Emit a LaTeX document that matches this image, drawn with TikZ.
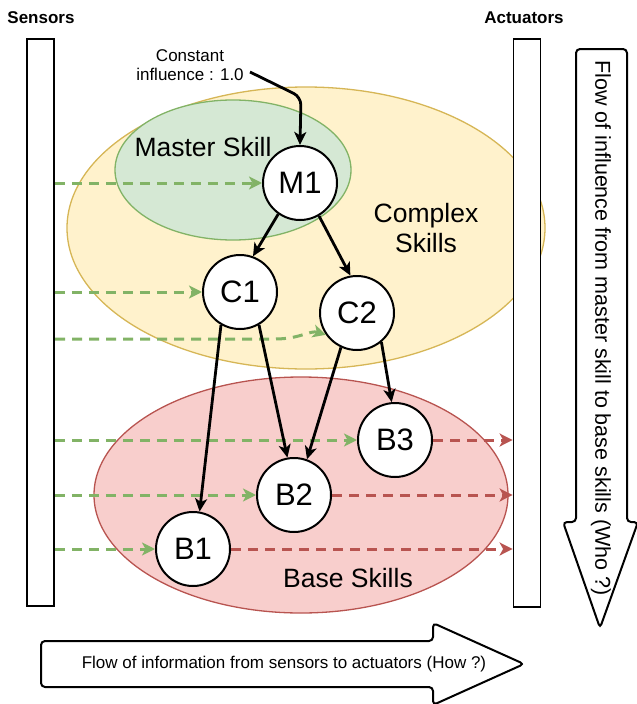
\documentclass[tikz,border=0pt]{standalone}
\usepackage{fontspec}
\setmainfont{Liberation Sans}
\usetikzlibrary{arrows.meta}
\definecolor{grnfill}{HTML}{D5E8D4}
\definecolor{grnline}{HTML}{82B366}
\definecolor{yelfill}{HTML}{FFF2CC}
\definecolor{yelline}{HTML}{D6B656}
\definecolor{redfill}{HTML}{F8CECC}
\definecolor{redline}{HTML}{B85450}
\tikzset{
  skill/.style={circle, draw, fill=white, line width=2pt, minimum size=74pt, inner sep=0pt, font=\fontsize{31}{33}\selectfont},
  bar/.style={draw, line width=1.8pt, fill=white, minimum width=27pt, inner sep=0pt},
  infl/.style={line width=2.8pt, -{Stealth[length=13pt, width=12pt, inset=3.5pt]}},
  sensing/.style={draw=grnline, line width=3pt, dash pattern=on 10pt off 7pt, -{Stealth[length=13pt, width=13pt, inset=3.5pt]}},
  acting/.style={draw=redline, line width=3pt, dash pattern=on 10pt off 7pt, -{Stealth[length=13pt, width=13pt, inset=3.5pt]}},
  grouplabel/.style={font=\fontsize{26.5}{30}\selectfont, align=center},
  flowbox/.style={draw, line width=2pt, fill=white, rounded corners=4pt}
}
\begin{document}
\begin{tikzpicture}[x=1pt, y=-1pt]
\useasboundingbox (0,0) rectangle (637,704);

% skill groups
\draw[yelline, fill=yelfill, line width=1.3pt] (306,228) ellipse [x radius=239, y radius=141];
\draw[grnline, fill=grnfill, line width=1.3pt] (233,170) ellipse [x radius=118, y radius=70];
\draw[redline, fill=redfill, line width=1.3pt] (301,495) ellipse [x radius=207, y radius=118];
\node[grouplabel] (mlab) at (203,147) {Master Skill};
\node[grouplabel] (clab) at (426,228) {Complex\\Skills};
\node[grouplabel] (blab) at (348,578) {Base Skills};

% sensor and actuator bars
\node[font=\bfseries\fontsize{17}{19}\selectfont] (senslab) at (41,18) {Sensors};
\node[font=\bfseries\fontsize{17}{19}\selectfont] (actlab) at (524,18) {Actuators};
\node[bar, minimum height=567pt] (sens) at (40.5,322.5) {};
\node[bar, minimum height=568pt] (act) at (527,323) {};

% skill nodes
\node[skill] (M1) at (300,183) {M1};
\node[skill] (C1) at (240,292) {C1};
\node[skill] (C2) at (357,313) {C2};
\node[skill] (B3) at (395,440) {B3};
\node[skill] (B2) at (294,495) {B2};
\node[skill] (B1) at (193,549) {B1};

% sensor inputs
\draw[sensing] (sens.east |- M1.west) -- (M1.west);
\draw[sensing] (sens.east |- C1.west) -- (C1.west);
\coordinate (c2in) at (55,339);
\draw[sensing] (c2in) -- (275,339) .. controls (300,339) and (310,330) .. (C2.-145);
\draw[sensing] (sens.east |- B3.west) -- (B3.west);
\draw[sensing] (sens.east |- B2.west) -- (B2.west);
\draw[sensing] (sens.east |- B1.west) -- (B1.west);

% actuator outputs
\draw[acting] (B3.east) -- (act.west |- B3.east);
\draw[acting] (B2.east) -- (act.west |- B2.east);
\draw[acting] (B1.east) -- (act.west |- B1.east);

% influence between skills
\node[font=\fontsize{17}{19}\selectfont, align=center] (const) at (190,65) {Constant\\influence : 1.0};
\coordinate (cstart) at (250,72);
\draw[infl, rounded corners=8pt] (cstart) -- (301,97) -- (M1.north);
\draw[infl] (M1.-125) -- (C1.70);
\draw[infl] (M1.-60) -- (C2.100);
\draw[infl] (C1.-120) -- (B1.80);
\draw[infl] (C1.-60) -- (B2.100);
\draw[infl] (C2.-115) -- (B2.70);
\draw[infl] (C2.-50) -- (B3.95);

% flow arrows
\draw[flowbox] (41,641) -- (433,641) -- (433,623) -- (524,664) -- (433,705) -- (433,687) -- (41,687) -- cycle;
\node[font=\fontsize{17}{19}\selectfont] (howlab) at (284,664) {Flow of information from sensors to actuators (How ?)};
\draw[flowbox] (576,49) -- (627,49) -- (627,522) -- (638,522) -- (600,628) -- (563,522) -- (576,522) -- cycle;
\node[font=\fontsize{21.5}{24}\selectfont, rotate=-90] (wholab) at (601,328) {Flow of influence from master skill to base skills (Who ?)};
\end{tikzpicture}
\end{document}
